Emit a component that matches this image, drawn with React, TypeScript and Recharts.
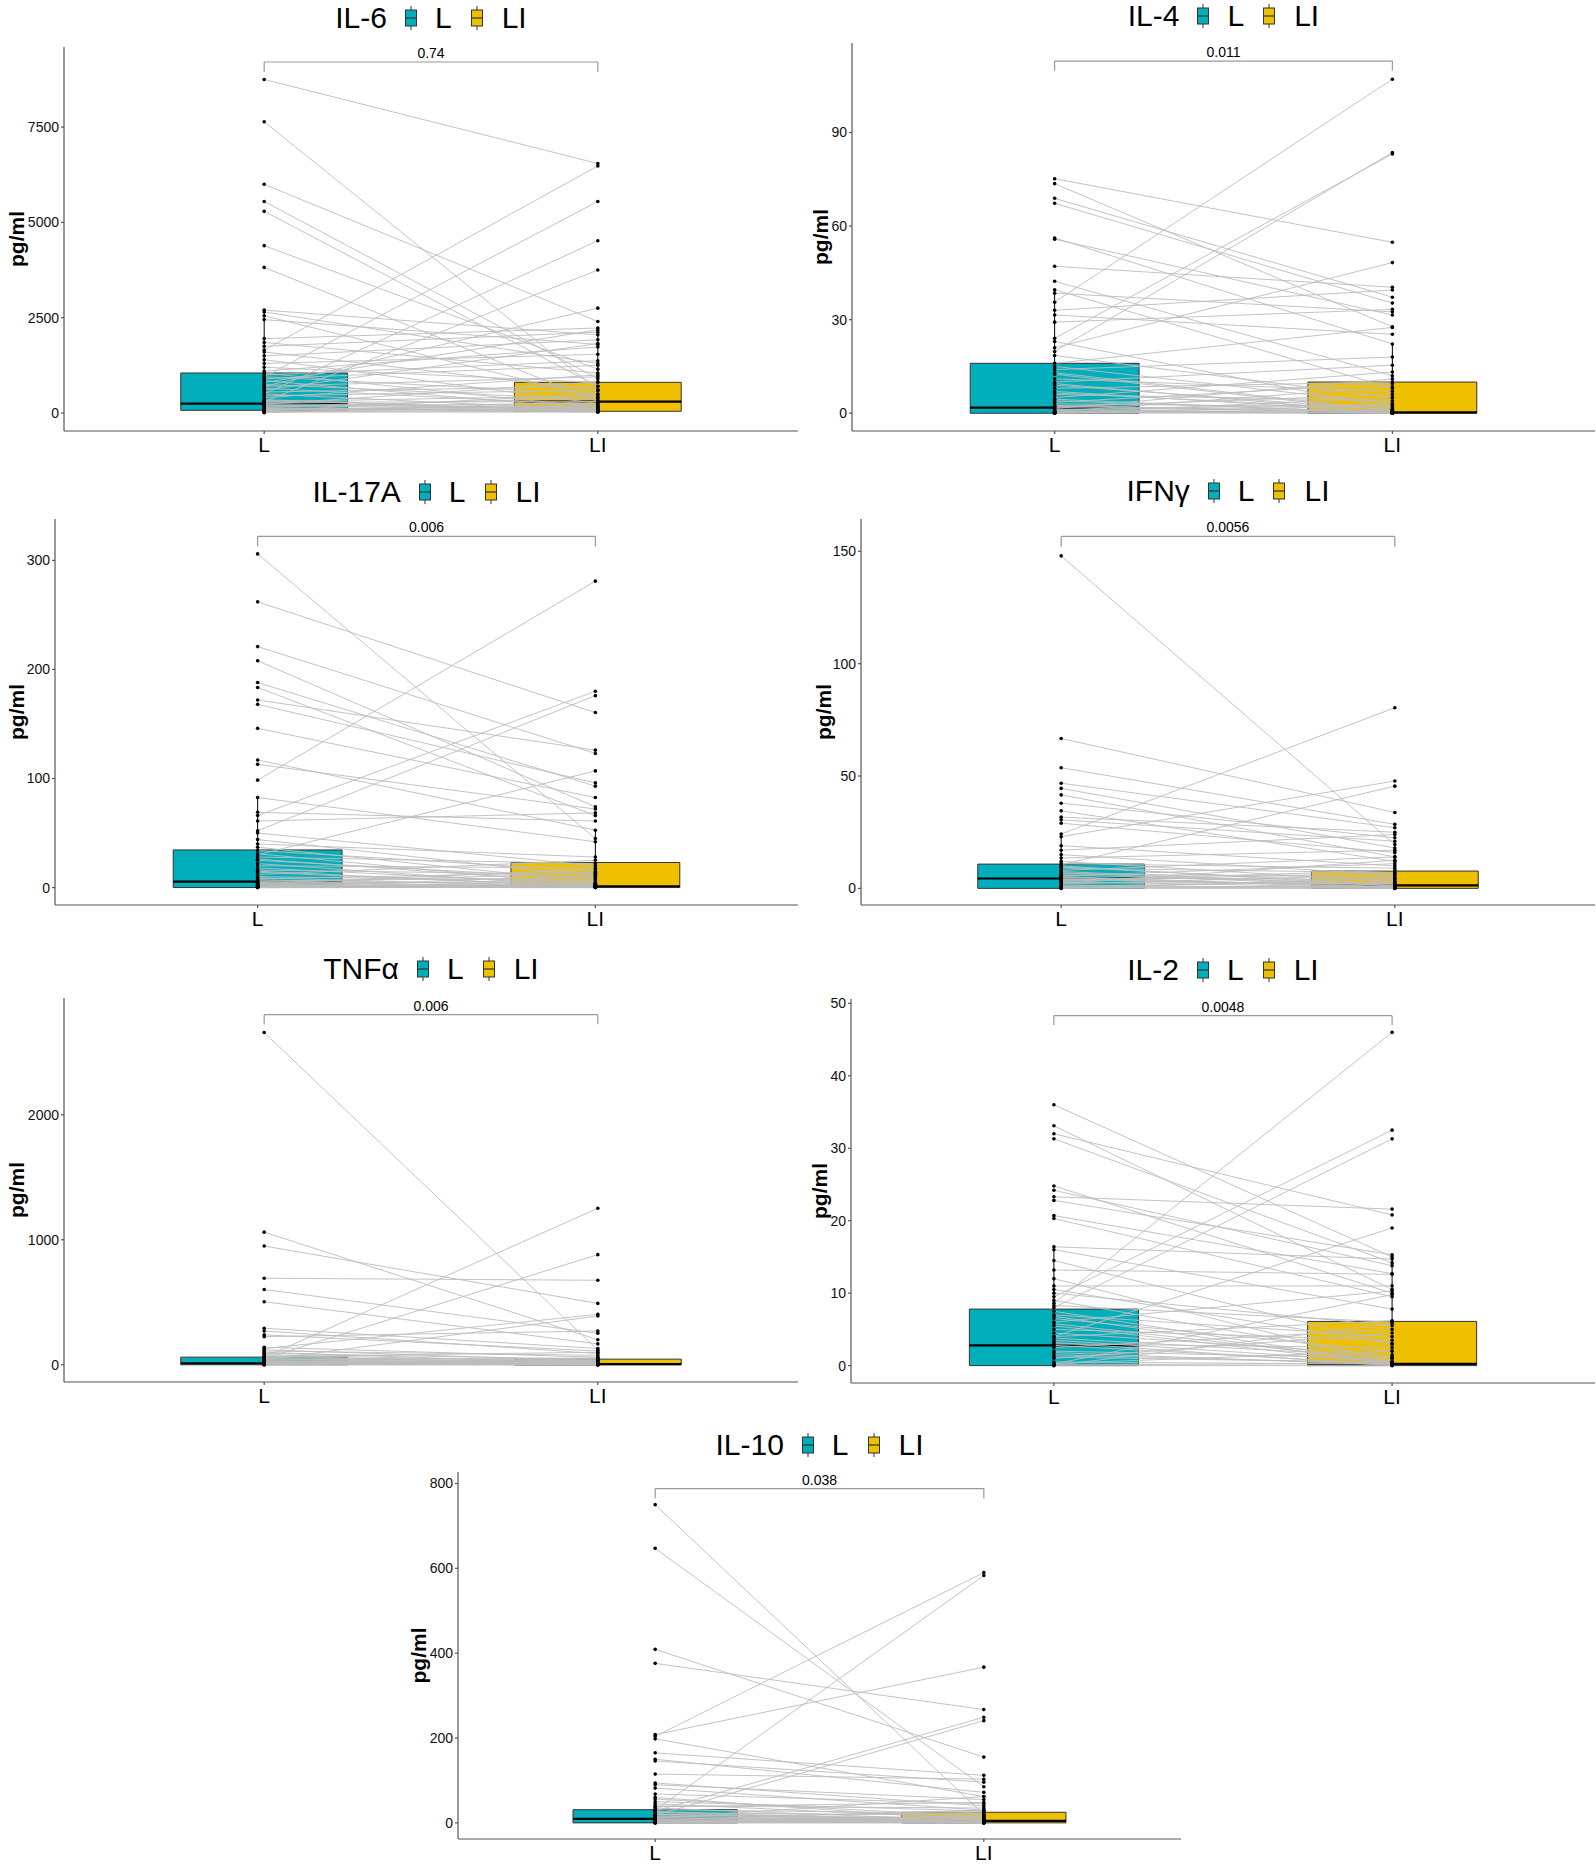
import React from 'react';
import { ComposedChart, XAxis, YAxis, Line, Scatter, ReferenceArea, ReferenceLine } from 'recharts';

// ---------- data ----------
const GROUPS = ['L', 'LI'];
const CYTOKINES = ['IL-6', 'IL-4', 'IL-17A', 'IFNγ', 'TNFα', 'IL-2', 'IL-10'];
const P_VALUES = ['0.74', '0.011', '0.006', '0.0056', '0.006', '0.0048', '0.038'];
const Y_TICKS = [
  [0, 2500, 5000, 7500],
  [0, 30, 60, 90],
  [0, 100, 200, 300],
  [0, 50, 100, 150],
  [0, 1000, 2000],
  [0, 10, 20, 30, 40, 50],
  [0, 200, 400, 600, 800],
];
const Y_DOMAINS = [
  [-472, 9601],
  [-5.7, 118.7],
  [-16, 338],
  [-7.4, 164.4],
  [-138, 2934],
  [-2.4, 50.6],
  [-38, 827],
];

const IL6_L = [8750, 7640, 6000, 5550, 5290, 4390, 3820, 1650, 950, 500, 300, 700, 2700, 2650, 2550, 2450, 1950, 1850, 1750, 1600, 1500, 1400, 1300, 1200, 1100, 1050, 1000, 950, 900, 850, 800, 750, 700, 650, 600, 550, 500, 450, 400, 350, 300, 280, 250, 230, 200, 180, 150, 120, 100, 80, 60, 40, 30, 20, 10, 90, 140, 220, 330, 60];
const IL6_LI = [6545, 600, 2400, 900, 700, 1150, 300, 6480, 5550, 4520, 3750, 2750, 2050, 1300, 400, 1800, 2230, 1050, 2120, 600, 1920, 250, 1540, 800, 1730, 150, 1370, 500, 1250, 100, 2180, 350, 950, 200, 1820, 700, 80, 600, 1000, 50, 450, 300, 120, 820, 60, 250, 400, 30, 180, 90, 500, 20, 150, 40, 300, 70, 40, 110, 60, 200];

const IL4_L = [75.2, 73.6, 68.9, 67.3, 56.2, 55.8, 47.1, 42.3, 39.6, 38.5, 35.6, 33, 31.5, 29.2, 24, 19.8, 23, 21, 18.5, 16, 15, 14, 12.5, 11, 10, 9, 8, 7, 6, 5, 4, 3.5, 3, 2.5, 2, 1.8, 1.5, 1.2, 1, 0.8, 0.5, 0.3, 0.2, 0.1, 0, 0, 13, 9.5, 6.5, 4.5, 0.6, 2.2, 0.4];
const IL4_LI = [54.8, 27.7, 37.2, 35.3, 22.2, 31.5, 40.4, 12, 8, 32.5, 107.1, 39.5, 25.3, 33.3, 83.1, 83.6, 1.5, 48.3, 5, 27.5, 3, 18, 0.5, 7, 15.4, 1, 10, 0.2, 4, 13.2, 0.3, 9.5, 2, 0.1, 6, 0.4, 11, 0, 3, 0.2, 8.5, 1, 0, 5, 0.3, 2.5, 0.8, 0, 1.2, 0, 0.1, 0.6, 0];

const IL17A_L = [306, 262, 221, 208, 188, 183.5, 172, 168, 146, 117, 113, 98.5, 66, 52, 30, 82.6, 69, 61, 50, 44, 40, 37, 34, 31, 28, 25, 22, 20, 18, 16, 14, 12, 10, 9, 8, 7, 6, 5.5, 5, 4, 3.5, 3, 2.5, 2, 1.5, 1, 0.5, 0.2, 0, 0, 0, 0.8, 26, 15, 4.5];
const IL17A_LI = [45, 160.5, 123, 74, 93, 66, 126, 96, 82.6, 52.6, 72, 281, 180, 176, 107, 42, 61, 68.5, 20, 10, 28, 5, 15, 2, 22, 8, 0.5, 18, 3, 12, 1, 25, 6, 0.2, 14, 2, 9, 0.5, 4, 1, 17, 0.2, 7, 1.2, 0, 3, 0.1, 11, 0.5, 2, 0, 0.3, 4, 0.8, 13];

const IFNG_L = [148, 66.7, 53.7, 46.8, 44.5, 41.6, 37.9, 34.5, 31.7, 30.5, 29, 24.2, 23, 10.5, 19, 17, 15, 13.5, 12, 11, 10, 9, 8, 7, 6.5, 6, 5.5, 5, 4.5, 4, 3.5, 3, 2.5, 2, 1.5, 1, 0.5, 0.2, 0, 0, 7.5, 4.2, 2.2, 0.8, 9.5, 5.2, 3.2];
const IFNG_LI = [19.5, 33.8, 28.5, 27, 18, 14, 22.5, 12, 25, 21, 16, 80.4, 47.8, 45.5, 10, 24, 6, 17, 3, 9, 1, 7, 14, 0.5, 5, 2, 11, 0.2, 4, 1.5, 8, 0.3, 2.5, 6, 0.1, 3, 0.8, 1.2, 0, 4.5, 1.3, 0.6, 12.5, 0, 2, 0.4, 7];

const TNFA_L = [2658, 1061, 950, 692, 602, 504, 292, 270, 239, 225, 60, 50, 130, 40, 140, 120, 110, 100, 90, 80, 70, 65, 60, 55, 50, 45, 40, 35, 30, 28, 25, 22, 20, 18, 15, 12, 10, 8, 6, 5, 4, 3, 2, 1, 0, 0];
const TNFA_LI = [119, 200, 491, 676, 252, 167, 130, 90, 110, 270, 1252, 881, 403, 390, 60, 30, 75, 10, 45, 20, 5, 100, 15, 40, 2, 25, 8, 55, 3, 12, 35, 1, 18, 6, 0, 28, 4, 10, 0.5, 50, 2, 7, 0, 15, 1, 0];

const IL2_L = [36, 33.1, 32, 31.3, 24.8, 24.2, 23.3, 22.8, 20.7, 20.3, 16.4, 16, 9.5, 8, 8.6, 4, 13.2, 11, 10.5, 10, 9, 8.3, 7.5, 7, 6.5, 6, 5.5, 5, 4.5, 4, 3.5, 3, 2.8, 2.5, 2, 1.5, 1, 0.5, 0.3, 0.1, 0, 0, 12, 14.5, 6.8, 3.2, 1.2, 0.2, 5.8, 3.8, 1.8];
const IL2_LI = [15, 10.5, 20.8, 14.2, 10, 13.8, 21.6, 15.3, 12.7, 9.5, 14.7, 7.8, 32.5, 31.3, 46, 19, 12.6, 11, 3, 5.5, 1, 6, 0.3, 4, 2, 10.3, 0.2, 3.5, 1.5, 6.2, 0.5, 2.5, 0.2, 5, 1, 0.3, 4.5, 0.2, 2, 0.3, 0, 5.8, 0.3, 3, 0.2, 0, 0.4, 9.8, 0.6, 1.2, 0.1];

const IL10_L = [750, 647, 409, 376, 208, 204, 198, 30, 28, 18, 165, 150, 146, 115, 94, 90, 82, 68, 56, 50, 45, 40, 35, 31, 27, 24, 21, 18.5, 16, 14, 12, 10, 9, 8, 7, 6, 5, 4, 3, 2, 1, 0.5, 0, 0, 60, 38, 25, 11, 20, 13];
const IL10_LI = [20, 85, 155, 267, 367, 590, 62, 583, 249, 241, 112, 72, 96, 103, 40, 55, 30, 45, 15, 28, 10, 35, 5, 22, 2, 18, 0.5, 12, 3, 25, 8, 0, 14, 4, 30, 1, 9, 0.2, 6, 2, 16, 0.5, 3, 0, 5, 48, 0.3, 62, 7, 1];

const L_SERIES = [IL6_L, IL4_L, IL17A_L, IFNG_L, TNFA_L, IL2_L, IL10_L];
const LI_SERIES = [IL6_LI, IL4_LI, IL17A_LI, IFNG_LI, TNFA_LI, IL2_LI, IL10_LI];

// box statistics
const Q1_L = [70, 0, 0, 0, 0, 0, 0];
const MED_L = [245, 1.8, 5.5, 4.4, 12, 2.8, 9.5];
const Q3_L = [1050, 16, 34.5, 10.8, 61, 7.8, 31];
const WHISKER_L = [2700, 39.6, 82.6, 24.2, 140, 16.4, 68];
const Q1_LI = [45, 0, 0, 0, 0, 0, 0];
const MED_LI = [300, 0.3, 1.2, 1.3, 5, 0.25, 4.7];
const Q3_LI = [805, 10, 23, 7.7, 45, 6.1, 25];
const WHISKER_LI = [2230, 22.2, 52.6, 19.5, 110, 15.3, 62];

// significance bracket levels (data units)
const BRACKET_Y = [9208, 112.9, 322, 156.7, 2801, 48.3, 788];
const BRACKET_TICK_Y = [8945, 109.8, 312.8, 152.2, 2724, 47.0, 765];

// ---------- layout / style ----------
const COLORS = ['#00AFBB', '#EFC000'];
const FONT = '"Liberation Sans", Arial, Helvetica, sans-serif';
const LAYOUT = [
  { left: 0, axisX: 64, top: 47, bottom: 431, right: 798, titleY: 18, labelX: 16.5 },
  { left: 798, axisX: 852, top: 43, bottom: 431, right: 1595, titleY: 16, labelX: 22 },
  { left: 0, axisX: 55, top: 519, bottom: 905, right: 798, titleY: 492, labelX: 16.5 },
  { left: 798, axisX: 861, top: 519, bottom: 905, right: 1595, titleY: 491, labelX: 25 },
  { left: 0, axisX: 64, top: 998, bottom: 1382, right: 798, titleY: 969, labelX: 16.5 },
  { left: 798, axisX: 851, top: 999, bottom: 1383, right: 1595, titleY: 970, labelX: 21 },
  { left: 398, axisX: 458, top: 1472, bottom: 1839, right: 1181, titleY: 1445, labelX: 20 },
];
const HALF_BOX = 0.25;

const renderDot = (p: any) => <circle cx={p.cx} cy={p.cy} r={1.8} fill="#000" />;

function BoxIcon({ color }: { color: string }) {
  return (
    <svg width={14} height={26} style={{ display: 'block' }}>
      <line x1={7} y1={1} x2={7} y2={25} stroke="#333" strokeWidth={1} />
      <rect x={1.5} y={5} width={11} height={16} fill={color} stroke="#333" strokeWidth={1} />
      <line x1={1.5} y1={13} x2={12.5} y2={13} stroke="#333" strokeWidth={1.2} />
    </svg>
  );
}

function Title({ i }: { i: number }) {
  const lay = LAYOUT[i];
  const cx = (lay.axisX + lay.right) / 2;
  const txt: React.CSSProperties = { fontSize: 30, lineHeight: '30px', color: '#000', whiteSpace: 'nowrap' };
  return (
    <div
      style={{
        position: 'absolute',
        left: cx - 250,
        width: 500,
        top: lay.titleY - 15,
        height: 30,
        display: 'flex',
        justifyContent: 'center',
        alignItems: 'center',
        fontFamily: FONT,
      }}
    >
      <span style={txt}>{CYTOKINES[i]}</span>
      <span style={{ marginLeft: 17 }}><BoxIcon color={COLORS[0]} /></span>
      <span style={{ ...txt, marginLeft: 17 }}>{GROUPS[0]}</span>
      <span style={{ marginLeft: 18 }}><BoxIcon color={COLORS[1]} /></span>
      <span style={{ ...txt, marginLeft: 18 }}>{GROUPS[1]}</span>
    </div>
  );
}

function Panel({ i }: { i: number }) {
  const lay = LAYOUT[i];
  const Lv = L_SERIES[i];
  const LIv = LI_SERIES[i];
  const n = Math.min(Lv.length, LIv.length);
  const lineData: { x: number; y: number | null }[] = [];
  for (let k = 0; k < n; k++) {
    lineData.push({ x: 0, y: Lv[k] });
    lineData.push({ x: 1, y: LIv[k] });
    lineData.push({ x: 0.5, y: null });
  }
  const pointData = [
    ...Lv.slice(0, n).map((v) => ({ x: 0, y: v })),
    ...LIv.slice(0, n).map((v) => ({ x: 1, y: v })),
  ];
  const MT = 4;
  const XH = 36;
  const width = lay.right - lay.left + 3;
  const height = lay.bottom - lay.top + MT + XH;
  const plotH = lay.bottom - lay.top;
  const yLabel = () => {
    const cx = lay.labelX;
    const cy = MT + plotH / 2;
    return (
      <text
        x={cx}
        y={cy}
        transform={`rotate(-90, ${cx}, ${cy})`}
        textAnchor="middle"
        dominantBaseline="central"
        fontSize={21}
        fontWeight="bold"
        fill="#000"
        fontFamily={FONT}
      >
        pg/ml
      </text>
    );
  };
  const q1 = [Q1_L[i], Q1_LI[i]];
  const med = [MED_L[i], MED_LI[i]];
  const q3 = [Q3_L[i], Q3_LI[i]];
  const wh = [WHISKER_L[i], WHISKER_LI[i]];
  const b = BRACKET_Y[i];
  const bt = BRACKET_TICK_Y[i];

  return (
    <div style={{ position: 'absolute', left: lay.left, top: lay.top - MT }}>
      <ComposedChart width={width} height={height} margin={{ top: MT, right: 3, bottom: 0, left: 0 }}>
        <XAxis
          type="number"
          dataKey="x"
          domain={[-0.6, 1.6]}
          ticks={[0, 1]}
          allowDataOverflow
          tickFormatter={(v: number) => GROUPS[v] ?? ''}
          height={XH}
          tickSize={3}
          tickMargin={3}
          stroke="#555"
          strokeWidth={1.2}
          tick={{ fontSize: 21, fill: '#000', fontFamily: FONT }}
        />
        <YAxis
          type="number"
          dataKey="y"
          domain={Y_DOMAINS[i]}
          ticks={Y_TICKS[i]}
          allowDataOverflow
          width={lay.axisX - lay.left}
          tickSize={3}
          tickMargin={2}
          stroke="#555"
          strokeWidth={1.2}
          tick={{ fontSize: 14, fill: '#111', fontFamily: FONT }}
          label={yLabel}
        />
        {[0, 1].map((g) => (
          <ReferenceArea
            key={`box${g}`}
            x1={g - HALF_BOX}
            x2={g + HALF_BOX}
            y1={q1[g]}
            y2={q3[g]}
            fill={COLORS[g]}
            fillOpacity={1}
            stroke="#333"
            strokeWidth={1}
            ifOverflow="visible"
          />
        ))}
        {[0, 1].map((g) => (
          <ReferenceLine
            key={`med${g}`}
            segment={[{ x: g - HALF_BOX, y: med[g] }, { x: g + HALF_BOX, y: med[g] }]}
            stroke="#000"
            strokeWidth={2.2}
            ifOverflow="visible"
          />
        ))}
        <Line
          data={lineData}
          dataKey="y"
          stroke="#bdbdbd"
          strokeWidth={1}
          strokeOpacity={0.9}
          dot={false}
          activeDot={false}
          connectNulls={false}
          isAnimationActive={false}
        />
        {[0, 1].map((g) => (
          <ReferenceLine
            key={`wh${g}`}
            segment={[{ x: g, y: q3[g] }, { x: g, y: wh[g] }]}
            stroke="#000"
            strokeWidth={1}
            ifOverflow="visible"
          />
        ))}
        <Scatter data={pointData} dataKey="y" shape={renderDot} isAnimationActive={false} />
        <ReferenceLine
          segment={[{ x: 0, y: b }, { x: 1, y: b }]}
          stroke="#999"
          strokeWidth={1.2}
          ifOverflow="visible"
          label={{ value: P_VALUES[i], position: 'top', fontSize: 14, fill: '#000', fontFamily: FONT, offset: 4 }}
        />
        <ReferenceLine segment={[{ x: 0, y: b }, { x: 0, y: bt }]} stroke="#999" strokeWidth={1.2} ifOverflow="visible" />
        <ReferenceLine segment={[{ x: 1, y: b }, { x: 1, y: bt }]} stroke="#999" strokeWidth={1.2} ifOverflow="visible" />
      </ComposedChart>
    </div>
  );
}

export default function App() {
  return (
    <div style={{ position: 'relative', width: 1596, height: 1865, background: '#fff', fontFamily: FONT, overflow: 'hidden' }}>
      <style>{'body{margin:0;}'}</style>
      {CYTOKINES.map((_, i) => (
        <React.Fragment key={i}>
          <Panel i={i} />
          <Title i={i} />
        </React.Fragment>
      ))}
    </div>
  );
}
